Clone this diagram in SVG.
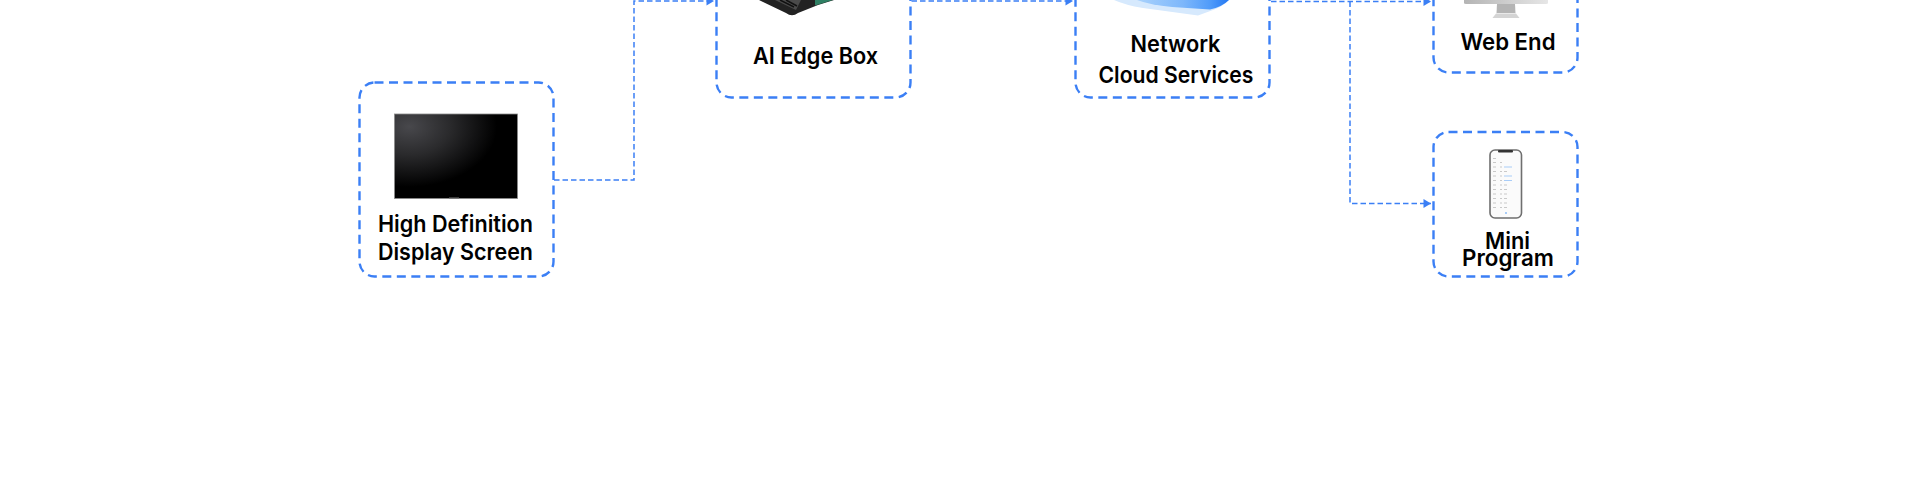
<svg xmlns="http://www.w3.org/2000/svg" width="1920" height="501" viewBox="0 0 1920 501">
  <style>
    .box{fill:#fff;stroke:#3b7ff5;stroke-width:2.4;stroke-dasharray:9 5.5}
    .conn{fill:none;stroke:#3b7ff5;stroke-width:1.5;stroke-dasharray:5.5 3}
    .lbl{font-family:"Inter","Liberation Sans",sans-serif;font-size:22.5px;font-weight:600;fill:#000;text-anchor:start}
    .row{fill:#c9c9c9}
    .rowb{fill:#a9cdf8}
  </style>
  <defs>
    <marker id="arr" markerUnits="userSpaceOnUse" markerWidth="9" markerHeight="11" refX="8" refY="5.5" orient="auto">
      <path d="M0.5 1L8 5.5L0.5 10Z" fill="#3b7ff5"/>
    </marker>
    <radialGradient id="tv" cx="0.12" cy="0.15" r="0.95">
      <stop offset="0" stop-color="#48484c"/><stop offset="0.35" stop-color="#2a2a2c"/><stop offset="0.75" stop-color="#000"/>
    </radialGradient>
    <linearGradient id="cloud" x1="0" y1="0" x2="1" y2="0">
      <stop offset="0" stop-color="#a9d2fc"/><stop offset="0.5" stop-color="#7db7fb"/><stop offset="0.8" stop-color="#4f9bfa"/><stop offset="1" stop-color="#2478f3"/>
    </linearGradient>
    <linearGradient id="mon" x1="0" y1="0" x2="1" y2="0">
      <stop offset="0" stop-color="#b4b4b4"/><stop offset="1" stop-color="#e6e6e6"/>
    </linearGradient>
  </defs>
  <rect width="1920" height="501" fill="#fff"/>
  <g id="connectors">
    <path class="conn" d="M554 180H634V1H714" marker-end="url(#arr)"/>
    <path class="conn" d="M911.5 1H1073" marker-end="url(#arr)"/>
    <path class="conn" d="M1271 1.500H1431" marker-end="url(#arr)"/>
    <path class="conn" d="M1350 1.500V203.500H1431" marker-end="url(#arr)"/>
  </g>
  <g id="display-screen">
    <rect class="box" x="359.5" y="82.5" width="194" height="194" rx="15"/>
    <rect x="394.5" y="114" width="123" height="84.5" fill="url(#tv)" stroke="#8a8a8a" stroke-width="0.8"/>
    <rect x="449" y="197.5" width="10" height="1.5" fill="#777"/>
    <text class="lbl" x="378" y="232" textLength="155" lengthAdjust="spacingAndGlyphs">High Definition</text>
    <text class="lbl" x="378" y="259.500" textLength="155" lengthAdjust="spacingAndGlyphs">Display Screen</text>
  </g>
  <g id="ai-edge-box">
    <rect class="box" x="716.5" y="-96.5" width="194" height="194" rx="15"/>
    <path d="M759 0L786 13Q792 17.5 798 13L818 5L834 0Z" fill="#222"/>
    <path d="M775 0L796 10L801 0Z" fill="#4a4a4a"/>
    <path d="M780 0L794 7M786 0L797 6" stroke="#111" stroke-width="1.5" fill="none"/>
    <path d="M815 0V5.500L833 0Z" fill="#2f7f63"/>
    <text class="lbl" x="753" y="63.500" textLength="125" lengthAdjust="spacingAndGlyphs">AI Edge Box</text>
  </g>
  <g id="cloud-services">
    <rect class="box" x="1075.5" y="-96.5" width="194" height="194" rx="15"/>
    <path d="M1114 0Q1125 5 1143 8L1198 15.500L1213 10Q1222 7 1229 0Z" fill="#d6e9fd"/>
    <path d="M1137 0Q1150 5 1172 7L1210 9.500Q1222 7 1229 0Z" fill="url(#cloud)"/>
    <text class="lbl" x="1130.500" y="51.500" textLength="90" lengthAdjust="spacingAndGlyphs">Network</text>
    <text class="lbl" x="1098.500" y="82.500" textLength="155" lengthAdjust="spacingAndGlyphs">Cloud Services</text>
  </g>
  <g id="web-end">
    <rect class="box" x="1433.5" y="-72" width="144" height="144.5" rx="15"/>
    <path d="M1464 0H1548V3Q1548 4 1546 4H1466Q1464 4 1464 3Z" fill="url(#mon)"/>
    <path d="M1497 4H1515L1515.500 13H1496.500Z" fill="#b4b4b4"/>
    <path d="M1496 13.500H1516L1519.500 18H1492.500Z" fill="#d4d4d4"/>
    <text class="lbl" x="1460.500" y="49.500" textLength="95" lengthAdjust="spacingAndGlyphs">Web End</text>
  </g>
  <g id="mini-program">
    <rect class="box" x="1433.5" y="132" width="144" height="144.5" rx="15"/>
    <rect x="1490" y="150" width="31.5" height="68" rx="5" fill="#fbfbfb" stroke="#6f6f6f" stroke-width="1.6"/>
    <rect x="1498" y="150" width="15" height="2.5" rx="1" fill="#333"/>
    <path class="row" d="M1493 158h3v1h-3zM1493 162h3v1h-3zM1493 166.500h3v1h-3zM1493 171h3v1h-3zM1493 175.500h3v1h-3zM1493 180h3v1h-3zM1493 184.500h3v1h-3zM1493 189h3v1h-3zM1493 193.500h3v1h-3zM1493 198h3v1h-3zM1493 202.500h3v1h-3zM1493 207h3v1h-3zM1500 162h2v1h-2zM1500 166.500h2v1h-2zM1500 171h2v1h-2zM1500 175.500h2v1h-2zM1500 180h2v1h-2zM1500 184.500h2v1h-2zM1500 189h2v1h-2zM1500 193.500h2v1h-2zM1500 198h2v1h-2zM1500 202.500h2v1h-2zM1500 207h2v1h-2zM1504 171h3v1h-3zM1504 184.500h3v1h-3zM1504 189h3v1h-3zM1504 193.500h3v1h-3zM1504 198h3v1h-3zM1504 202.500h3v1h-3zM1504 207h3v1h-3z"/>
    <path class="rowb" d="M1504 166.500h8v1h-8zM1504 175.500h8v1h-8zM1504 180h8v1h-8zM1505 212h2v2h-2z"/>
    <text class="lbl" x="1485" y="248.500" textLength="45" lengthAdjust="spacingAndGlyphs">Mini</text>
    <text class="lbl" x="1462" y="266" textLength="92" lengthAdjust="spacingAndGlyphs">Program</text>
  </g>
</svg>
